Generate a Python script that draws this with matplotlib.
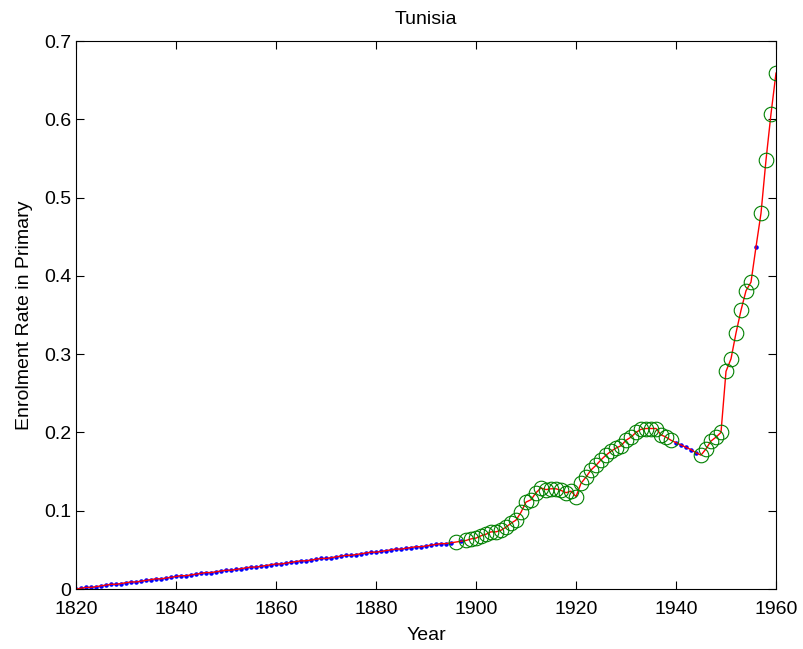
import matplotlib
import numpy as np
import matplotlib.pyplot as plt

matplotlib.use("Agg")

plt.rcParams['font.family'] = ['Liberation Sans', 'DejaVu Sans']

# full yearly series (interpolated where not observed)
years = list(range(1820, 1961))
early = [0.000, 0.001, 0.002, 0.002, 0.003, 0.004, 0.005, 0.006, 0.006, 0.007,
         0.008, 0.009, 0.009, 0.010, 0.011, 0.012, 0.013, 0.013, 0.014, 0.015,
         0.016, 0.017, 0.017, 0.018, 0.019, 0.020, 0.021, 0.021, 0.022, 0.023,
         0.024, 0.024, 0.025, 0.026, 0.027, 0.028, 0.028, 0.029, 0.030, 0.031,
         0.032, 0.032, 0.033, 0.034, 0.035, 0.036, 0.036, 0.037, 0.038, 0.039,
         0.039, 0.040, 0.041, 0.042, 0.043, 0.043, 0.044, 0.045, 0.046, 0.047,
         0.047, 0.048, 0.049, 0.050, 0.051, 0.051, 0.052, 0.053, 0.054, 0.054,
         0.055, 0.056, 0.057, 0.058, 0.058, 0.059, 0.060, 0.061]  # 1820-1897

obs_years = [1896] + list(range(1898, 1940)) + list(range(1945, 1956)) + [1957, 1958, 1959, 1960]
obs_vals = [0.060,
            0.062, 0.064, 0.065, 0.068, 0.070, 0.073, 0.073, 0.075, 0.079, 0.084,
            0.088, 0.098, 0.111, 0.114, 0.123, 0.129, 0.127, 0.128, 0.128, 0.126,
            0.123, 0.125, 0.118, 0.135, 0.143, 0.152, 0.158, 0.165, 0.171, 0.176,
            0.180, 0.183, 0.190, 0.194, 0.200, 0.204, 0.205, 0.205, 0.205, 0.197,
            0.194, 0.190,
            0.171, 0.179, 0.189, 0.194, 0.200, 0.278, 0.294, 0.327, 0.356, 0.381,
            0.392,
            0.480, 0.548, 0.607, 0.659]

gap_1940s = [0.187, 0.184, 0.181, 0.178, 0.174]  # 1940-1944
gap_1956 = [0.437]

series = (early
          + obs_vals[1:43]
          + gap_1940s
          + obs_vals[43:54]
          + gap_1956
          + obs_vals[54:])

# blue dots only where the value is interpolated
interp_years = [y for y in years if y not in obs_years]
interp_vals = [v for y, v in zip(years, series) if y not in obs_years]

fig = plt.figure(figsize=(8.04, 6.49), dpi=100)
ax = fig.add_axes([76 / 804, 60 / 649, 700 / 804, 548 / 649])

ax.plot(interp_years, interp_vals, "b.", markersize=4.5)
ax.plot(years, series, "r-", linewidth=1)
ax.plot(obs_years, obs_vals, "o", markerfacecolor="none", markeredgecolor="#008000",
        markersize=10.5, markeredgewidth=0.8)

ax.set_xlim(1820, 1960)
ax.set_ylim(0, 0.7)
ax.set_xticks(np.arange(1820, 1961, 20))
ax.set_yticks(np.arange(0, 0.71, 0.1))
ax.set_yticklabels(["0", "0.1", "0.2", "0.3", "0.4", "0.5", "0.6", "0.7"])
ax.tick_params(direction="in", top=True, right=True, length=6, labelsize=14)
ax.tick_params(axis="x", pad=9)

ax.set_xlabel("Year", fontsize=14, labelpad=6)
ax.set_ylabel("Enrolment Rate in Primary", fontsize=14, labelpad=8)
ax.set_title("Tunisia", fontsize=14, pad=12)

plt.savefig("out.png", dpi=100)
